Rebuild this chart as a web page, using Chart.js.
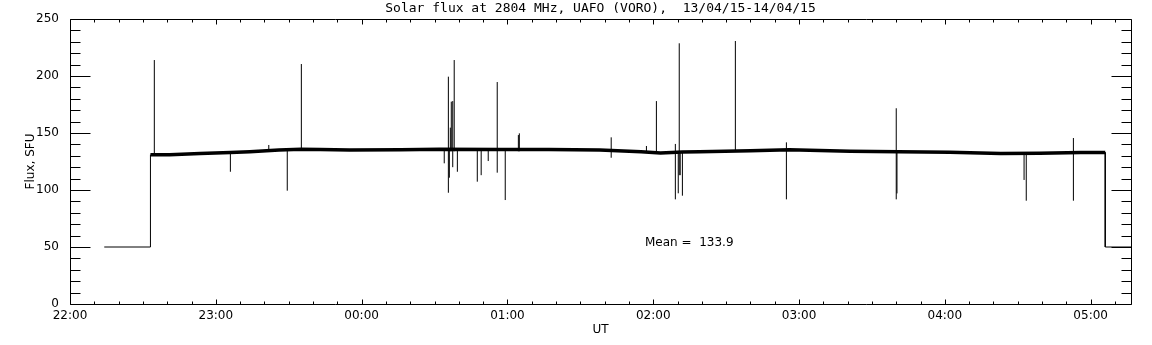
<!DOCTYPE html>
<html>
<head>
<meta charset="utf-8">
<script src="https://cdn.jsdelivr.net/npm/chart.js@4.4.0/dist/chart.umd.min.js"></script>
<style>
    body { margin: 0; background: #fff; }
    canvas { display: block; }
</style>
</head>
<body>
<canvas id="chart" width="1152" height="345"></canvas>
<script>
// times are minutes after 22:00 UT
let baseTimes = [33.1, 41, 53.5, 66, 74, 86, 95, 103, 115, 136, 152, 177, 197, 218, 235, 243, 252, 259, 280, 296, 321, 341, 362, 383, 399, 416, 426];
let baseFlux  = [131.0, 131.0, 132.0, 133.0, 133.6, 135.0, 135.8, 135.5, 135.0, 135.2, 135.8, 135.5, 135.5, 135.0, 133.5, 132.5, 133.3, 133.5, 134.5, 135.2, 134.0, 133.6, 133.2, 132.0, 132.2, 133.0, 133.0];

// short bursts / dropouts: bottom and top of each vertical line
let spikeTimes = [34.7, 66.0, 81.8, 89.4, 95.2, 154.0, 155.7, 156.1, 156.5, 156.9, 157.5, 158.1, 159.4, 167.6, 169.2, 172.1, 175.8, 179.1, 184.5, 184.9, 222.7, 237.2, 241.3, 249.1, 250.3, 250.7, 251.1, 252.0, 273.8, 294.8, 340.0, 340.3, 392.6, 393.5, 412.9];
let spikeLow   = [131, 116, 134, 99.4, 135, 123.4, 97.6, 110.8, 134, 134, 120, 134, 116, 107.3, 113, 125.4, 115.2, 91.2, 134, 134, 128.3, 133, 133, 91.8, 97.1, 113, 113, 95, 134, 91.8, 91.8, 97, 108.8, 90.6, 90.6];
let spikeHigh  = [214, 133, 139.5, 135, 210.5, 136, 199.4, 136, 154.7, 177.5, 178, 214, 136, 135, 135, 135, 194.7, 135, 148.2, 149.7, 146.2, 138.6, 178, 140.4, 134, 228.7, 134, 134, 230.7, 141.8, 171.7, 134, 132, 132, 145.6];

// receiver off level before start and after end
let offTimes = [14.1, 33.1, 426.0, 436.6];
let offFlux = 50;

let xTickMinutes = [0, 60, 120, 180, 240, 300, 360, 420];
let xTickLabels = ["22:00", "23:00", "00:00", "01:00", "02:00", "03:00", "04:00", "05:00"];
let yTicks = [0, 50, 100, 150, 200, 250];
let meanFlux = 133.9;

let baseData = baseTimes.map((t, i) => ({ x: t, y: baseFlux[i] }));

let spikeData = [];
spikeTimes.forEach((t, i) => {
    spikeData.push({ x: t, y: spikeLow[i] });
    spikeData.push({ x: t, y: spikeHigh[i] });
    spikeData.push({ x: t, y: null });
});

let offData = [
    { x: offTimes[0], y: offFlux },
    { x: offTimes[1], y: offFlux },
    { x: offTimes[1], y: baseFlux[0] },
    { x: offTimes[1], y: null },
    { x: offTimes[2], y: baseFlux[baseFlux.length - 1] },
    { x: offTimes[2], y: offFlux },
    { x: offTimes[3], y: offFlux }
];

let font12 = { family: "DejaVu Sans", size: 12, weight: "normal" };

// IDL-style box with inward ticks on all four sides, plus the mean label
const axisBox = {
    id: "axisBox",
    afterDatasetsDraw(chart) {
        const { ctx, chartArea: a, scales: { x, y } } = chart;
        const L = Math.round(a.left) + 0.5, R = Math.round(a.right) + 0.5;
        const T = Math.round(a.top) + 0.5, B = Math.round(a.bottom) + 0.5;
        ctx.save();
        ctx.strokeStyle = "#000";
        ctx.lineWidth = 1;
        ctx.beginPath();
        ctx.rect(L, T, R - L, B - T);
        for (let m = 0; m <= x.max; m += 10) {
            let px = Math.round(x.getPixelForValue(m)) + 0.5;
            let len = m % 60 === 0 ? 5 : 3;
            ctx.moveTo(px, B); ctx.lineTo(px, B - len);
            ctx.moveTo(px, T); ctx.lineTo(px, T + len);
        }
        for (let v = 0; v <= 250; v += 10) {
            let py = Math.round(y.getPixelForValue(v)) + 0.5;
            let len = v % 50 === 0 ? 20 : 10;
            ctx.moveTo(L, py); ctx.lineTo(L + len, py);
            ctx.moveTo(R, py); ctx.lineTo(R - len, py);
        }
        ctx.stroke();

        ctx.fillStyle = "#000";
        ctx.font = '12px "DejaVu Sans"';
        ctx.textAlign = "left";
        ctx.textBaseline = "middle";
        ctx.fillText("Mean =  " + meanFlux.toFixed(1), x.getPixelForValue(236.6), y.getPixelForValue(53.5));
        ctx.restore();
    }
};

let ctx = document.getElementById("chart").getContext("2d");
new Chart(ctx, {
    type: "line",
    data: {
        datasets: [
            { data: baseData, borderColor: "#000", borderWidth: 3.5, pointRadius: 0, tension: 0 },
            { data: spikeData, borderColor: "#000", borderWidth: 1, pointRadius: 0, spanGaps: false },
            { data: offData, borderColor: "#000", borderWidth: 1, pointRadius: 0, spanGaps: false }
        ]
    },
    options: {
        responsive: false,
        animation: false,
        devicePixelRatio: 1,
        layout: { padding: { left: 0, right: 21, top: 0, bottom: 0 } },
        plugins: {
            legend: { display: false },
            tooltip: { enabled: false },
            title: {
                display: true,
                fullSize: false,
                text: "Solar flux at 2804 MHz, UAFO (VORO),  13/04/15-14/04/15",
                color: "#000",
                font: { family: "DejaVu Sans Mono", size: 13, weight: "normal", lineHeight: 1 },
                padding: { top: 2, bottom: 4 }
            }
        },
        scales: {
            x: {
                type: "linear",
                min: 0,
                max: offTimes[3],
                afterFit: s => { s.height = 41; },
                afterBuildTicks: s => { s.ticks = xTickMinutes.map(v => ({ value: v })); },
                ticks: {
                    callback: (v, i) => xTickLabels[i],
                    autoSkip: false,
                    maxRotation: 0,
                    padding: -3,
                    color: "#000",
                    font: font12
                },
                grid: { display: false },
                border: { display: false },
                title: { display: true, text: "UT", color: "#000", font: font12, padding: { top: 0, bottom: 8 } }
            },
            y: {
                min: 0,
                max: 250,
                afterFit: s => { s.width = 70; },
                afterBuildTicks: s => { s.ticks = yTicks.map(v => ({ value: v })); },
                ticks: { padding: 3, color: "#000", font: font12 },
                grid: { display: false },
                border: { display: false },
                title: { display: true, text: "Flux, SFU", color: "#000", font: font12, padding: { top: 24, bottom: 0 } }
            }
        }
    },
    plugins: [axisBox]
});
</script>
</body>
</html>
